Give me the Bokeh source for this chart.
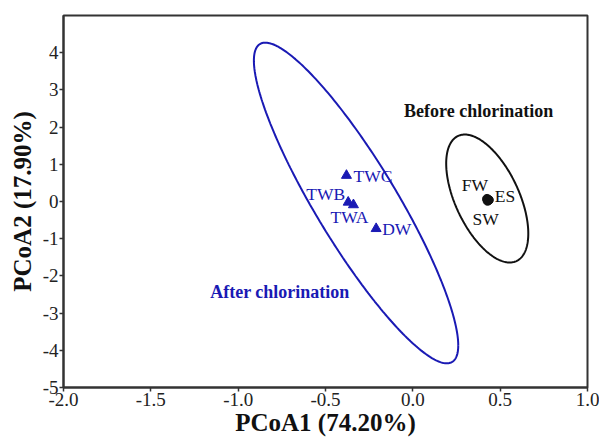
import numpy as np
from bokeh.plotting import figure
from bokeh.models import FixedTicker, Label, ColumnDataSource
from bokeh.core.properties import value
from bokeh.embed import file_html
from bokeh.resources import INLINE

# ---- data ----
after_names = ["TWC", "TWB", "TWA", "DW"]
after_x = [-0.38, -0.37, -0.34, -0.21]
after_y = [0.70, -0.02, -0.09, -0.73]

before_names = ["FW", "ES", "SW"]
before_x = [0.425, 0.435, 0.428]
before_y = [0.07, 0.04, 0.02]

# confidence ellipses: centre, half-range in x and y, correlation
ell_groups = ["After chlorination", "Before chlorination"]
ell_cx = [-0.325, 0.426]
ell_cy = [-0.04, 0.08]
ell_rx = [0.585, 0.235]
ell_ry = [4.31, 1.72]
ell_rho = [-0.888, -0.547]

x_ticks = [-2.0, -1.5, -1.0, -0.5, 0.0, 0.5, 1.0]
x_tick_labels = ["-2.0", "-1.5", "-1.0", "-0.5", "0.0", "0.5", "1.0"]
y_ticks = [-5, -4, -3, -2, -1, 0, 1, 2, 3, 4]
y_tick_labels = ["-5", "-4", "-3", "-2", "-1", "0", "1", "2", "3", "4"]

BLUE = "#1a1ab4"
BLACK = "#111111"
AX = "#333333"
FONT = "Liberation Serif"

p = figure(width=599, height=439, x_range=(-2.0, 1.0), y_range=(-5, 5),
           output_backend="svg", toolbar_location=None,
           min_border_left=63, min_border_right=12, min_border_top=15,
           min_border_bottom=52)
p.grid.visible = False
p.outline_line_color = AX
p.outline_line_width = 2
p.background_fill_color = "white"
p.border_fill_color = "white"

for ax in (p.xaxis[0], p.yaxis[0]):
    ax.axis_line_color = AX
    ax.axis_line_width = 2
    ax.major_tick_line_color = AX
    ax.major_tick_line_width = 1.5
    ax.major_tick_in = 0
    ax.major_tick_out = 4
    ax.minor_tick_line_color = None
    ax.major_label_text_font = FONT
    ax.major_label_text_font_size = "19px"
    ax.major_label_text_color = "#222222"
    ax.axis_label_text_font = FONT
    ax.axis_label_text_font_size = "25px"
    ax.axis_label_text_font_style = "bold"
    ax.axis_label_text_color = "#111111"
    ax.major_label_standoff = 1

p.xaxis.ticker = FixedTicker(ticks=x_ticks)
p.xaxis.major_label_overrides = {t: l for t, l in zip(x_ticks, x_tick_labels)}
p.yaxis.ticker = FixedTicker(ticks=y_ticks)
p.yaxis.major_label_overrides = {t: l for t, l in zip(y_ticks, y_tick_labels)}
p.xaxis.axis_label = "PCoA1 (74.20%)"
p.yaxis.axis_label = "PCoA2 (17.90%)"
p.xaxis.axis_label_standoff = 0
p.yaxis.axis_label_standoff = 4

# ellipses
t = np.linspace(0, 2 * np.pi, 300)
colors = [BLUE, BLACK]
for cx, cy, rx, ry, rho, c in zip(ell_cx, ell_cy, ell_rx, ell_ry, ell_rho, colors):
    ex = cx + rx * np.cos(t)
    ey = cy + ry * (rho * np.cos(t) + np.sqrt(1 - rho ** 2) * np.sin(t))
    p.line(ex, ey, line_color=c, line_width=2)

# points
p.scatter(after_x, after_y, marker="triangle", size=10, fill_color=BLUE, line_color=BLUE)
p.scatter(before_x, before_y, marker="circle", size=9, fill_color=BLACK, line_color=BLACK)

# point labels
after_src = ColumnDataSource(dict(x=after_x, y=after_y, t=after_names,
                                  xo=[7, -3, -4, 6], yo=[1, -8, 12, 0],
                                  al=["left", "right", "center", "left"]))
p.text(x="x", y="y", text="t", x_offset="xo", y_offset="yo", text_align="al",
       text_baseline="middle", text_font=value(FONT), text_font_size="17.5px",
       text_color=BLUE, source=after_src)
before_src = ColumnDataSource(dict(x=before_x, y=before_y, t=before_names,
                                   xo=[1, 6, -2], yo=[-14, -4, 18],
                                   al=["right", "left", "center"]))
p.text(x="x", y="y", text="t", x_offset="xo", y_offset="yo", text_align="al",
       text_baseline="middle", text_font=value(FONT), text_font_size="17.5px",
       text_color=BLACK, source=before_src)

# group labels
p.add_layout(Label(x=-0.05, y=2.42, text=ell_groups[1], text_font=FONT,
                   text_font_size="18px", text_font_style="bold",
                   text_color=BLACK, text_baseline="middle", text_align="left"))
p.add_layout(Label(x=-1.16, y=-2.44, text=ell_groups[0], text_font=FONT,
                   text_font_size="18px", text_font_style="bold",
                   text_color=BLUE, text_baseline="middle", text_align="left"))

open("out.html", "w").write(file_html(p, INLINE))
